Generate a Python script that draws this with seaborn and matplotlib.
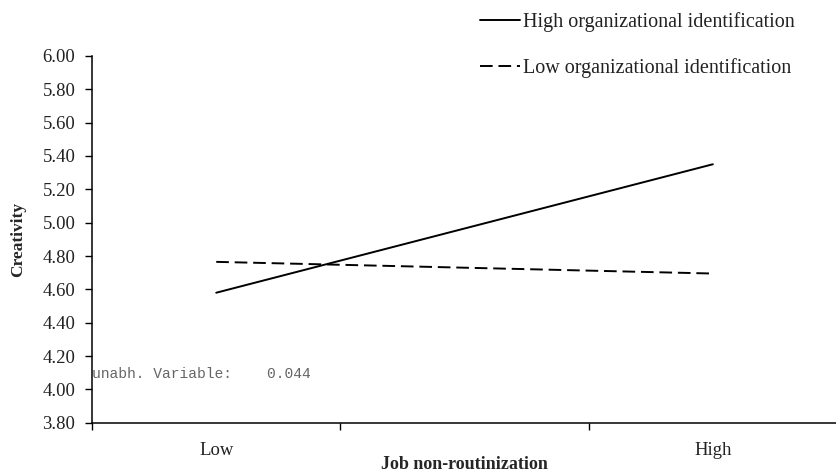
import pandas as pd
import matplotlib.pyplot as plt
import seaborn as sns

# Data
levels = ["Low", "High"]
high_oi = [4.58, 5.35]
low_oi = [4.765, 4.695]
groups = ["High organizational identification", "Low organizational identification"]
y_ticks = [3.80, 4.00, 4.20, 4.40, 4.60, 4.80, 5.00, 5.20, 5.40, 5.60, 5.80, 6.00]
note = "unabh. Variable:    0.044"

df = pd.DataFrame({
    "pos": list(range(len(levels))) * 2,
    "Creativity": high_oi + low_oi,
    "group": [groups[0]] * len(levels) + [groups[1]] * len(levels),
})

sns.set_style("ticks")
plt.rcParams["font.family"] = ["Liberation Serif", "DejaVu Serif"]

fig = plt.figure(figsize=(8.37, 4.73), dpi=100)
ax = fig.add_axes([0.110, 0.106, 0.890, 0.776])

sns.lineplot(data=df, x="pos", y="Creativity", hue="group", style="group",
             palette={groups[0]: "black", groups[1]: "black"},
             dashes={groups[0]: "", groups[1]: (6.5, 3)},
             linewidth=1.4, ax=ax)

ax.set_xlim(-0.25, 1.25)
ax.set_ylim(3.80, 6.00)
ax.set_yticks(y_ticks)
ax.set_yticklabels([f"{v:.2f}" for v in y_ticks], fontsize=13.5, color="#222222")

# category boundaries as tick marks, category names centred in their slots
ax.set_xticks([-0.25, 0.25, 0.75])
ax.set_xticklabels([])
ax.set_xticks(range(len(levels)), minor=True)
ax.set_xticklabels(levels, minor=True, fontsize=13.5, color="#222222")
ax.tick_params(axis="x", which="minor", length=0, pad=14)
ax.tick_params(axis="both", which="major", length=5, width=1, color="black", direction="out")
ax.tick_params(axis="y", pad=7)

for side in ["top", "right"]:
    ax.spines[side].set_visible(False)
for side in ["left", "bottom"]:
    ax.spines[side].set_linewidth(1.1)
    ax.spines[side].set_color("black")

ax.set_xlabel("Job non-routinization", fontsize=13, fontweight="bold", va="center")
ax.xaxis.set_label_coords(0.5, -0.114)
ax.set_ylabel("Creativity", fontsize=12.5, fontweight="bold", va="center")
ax.yaxis.set_label_coords(-0.099, 0.5)

ax.text(-0.25, 4.09, note, family=["Liberation Mono", "DejaVu Sans Mono"],
        fontsize=10.5, color="#666666", ha="left", va="center")

leg = ax.legend(loc="upper left", bbox_to_anchor=(0.521, 1.12), frameon=False,
                fontsize=14.5, handlelength=2.0, handletextpad=0.15, labelspacing=1.3,
                borderpad=0, borderaxespad=0)
for line in leg.get_lines():
    line.set_linewidth(1.4)
for t in leg.get_texts():
    t.set_color("#222222")

fig.savefig("out.png", dpi=100)
